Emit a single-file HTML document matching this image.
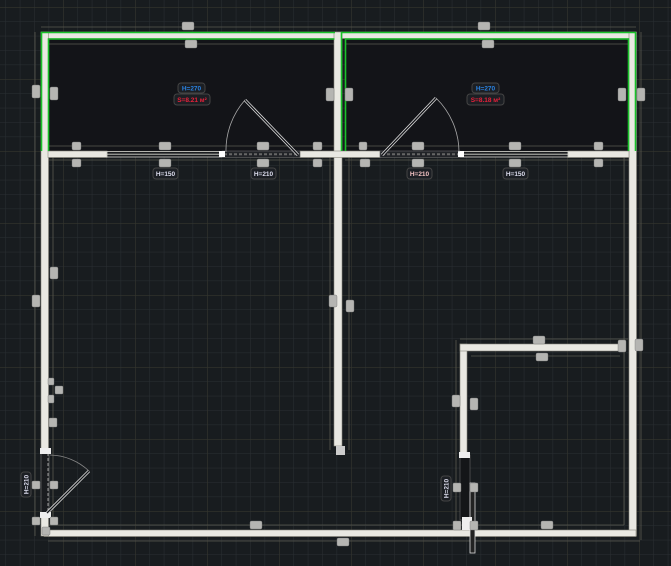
<!DOCTYPE html>
<html><head><meta charset="utf-8"><style>
html,body{margin:0;padding:0;background:#16191c;}
svg{display:block}
text{font-family:"Liberation Sans",sans-serif;}
</style></head><body>
<svg width="671" height="566" viewBox="0 0 671 566" xmlns="http://www.w3.org/2000/svg">
<defs>
<pattern id="mn" width="14.4" height="14.4" patternUnits="userSpaceOnUse" x="5.4" y="7">
<path d="M0 0H14.4M0 0V14.4" stroke="#2a2f33" stroke-width="1" fill="none"/>
</pattern>
<pattern id="mj" width="72" height="72" patternUnits="userSpaceOnUse" x="63" y="7">
<path d="M0 0H72M0 0V72" stroke="#34352e" stroke-width="1.2" fill="none"/>
</pattern>
</defs>
<rect width="671" height="566" fill="#181c1f"/>
<rect width="671" height="566" fill="url(#mn)"/>
<rect width="671" height="566" fill="url(#mj)"/>
<rect x="48" y="38" width="287" height="113" fill="#131418"/>
<rect x="345" y="38" width="284" height="113" fill="#131418"/>
<g stroke="#5a5a50" stroke-width="0.8" fill="none">
<line x1="41" y1="27" x2="636" y2="27"/>
<line x1="35" y1="32" x2="35" y2="536"/>
<line x1="48" y1="44" x2="334" y2="44"/>
<line x1="345" y1="44" x2="629" y2="44"/>
<line x1="48" y1="146" x2="334" y2="146"/>
<line x1="48" y1="160" x2="334" y2="160"/>
<line x1="345" y1="146" x2="629" y2="146"/>
<line x1="345" y1="160" x2="629" y2="160"/>
<line x1="53" y1="157" x2="53" y2="525"/>
<line x1="330" y1="157" x2="330" y2="450"/>
<line x1="349" y1="157" x2="349" y2="450"/>
<line x1="624" y1="157" x2="624" y2="525"/>
<line x1="641" y1="32" x2="641" y2="540"/>
<line x1="48" y1="541" x2="640" y2="541"/>
<line x1="48" y1="525" x2="624" y2="525"/>
<line x1="456" y1="340" x2="456" y2="530"/>
<line x1="471" y1="356" x2="620" y2="356"/>
<line x1="460" y1="339" x2="628" y2="339"/>
</g>
<g fill="#e9e8e2" stroke="#8a887e" stroke-width="0.6">
<rect x="41" y="32" width="595" height="6.5"/>
<rect x="41" y="32" width="7.5" height="418"/>
<rect x="629" y="32" width="7.5" height="504"/>
<rect x="334" y="32" width="8" height="414"/>
<rect x="44" y="530" width="592" height="6.5"/>
<rect x="41" y="515" width="7.5" height="21"/>
<rect x="48" y="151" width="59" height="6.5"/>
<rect x="300" y="151" width="80" height="6.5"/>
<rect x="568" y="151" width="61" height="6.5"/>
<rect x="460" y="344" width="7" height="111"/>
<rect x="460" y="344" width="162" height="7"/>
</g>
<g fill="none" stroke="#19c22a" stroke-width="1.6">
<path d="M41.5 151V32.5H335"/>
<path d="M48.5 151V39H334.5"/>
<path d="M341.5 151V32.5H636"/>
<path d="M345.5 151V39H628.5V151"/>
<path d="M635.5 32.5V151"/>
</g>
<g stroke="#d8d8d0" stroke-width="0.8" fill="none">
<rect x="107" y="151.5" width="115" height="5.5" fill="#1a1c1f"/>
<line x1="107" y1="154.2" x2="222" y2="154.2"/>
<rect x="460" y="151.5" width="108" height="5.5" fill="#1a1c1f"/>
<line x1="460" y1="154.2" x2="568" y2="154.2"/>
</g>
<rect x="222" y="151" width="78" height="6.5" fill="#222428" stroke="#777" stroke-width="0.5"/>
<line x1="224" y1="154.2" x2="298" y2="154.2" stroke="#666" stroke-width="2" stroke-dasharray="3 2"/>
<rect x="219" y="151" width="6" height="6" fill="#fff"/>
<path d="M298 155 L245 100" stroke="#ddd" stroke-width="3" fill="none"/>
<path d="M298 155 L245 100" stroke="#131418" stroke-width="1.4" fill="none"/>
<path d="M245 100 A76 76 0 0 0 226 152" stroke="#aaa" stroke-width="0.8" fill="none"/>
<rect x="380" y="151" width="80" height="6.5" fill="#222428" stroke="#777" stroke-width="0.5"/>
<line x1="382" y1="154.2" x2="458" y2="154.2" stroke="#666" stroke-width="2" stroke-dasharray="3 2"/>
<rect x="458" y="151" width="6" height="6" fill="#fff"/>
<path d="M382 155 L436 98" stroke="#ddd" stroke-width="3" fill="none"/>
<path d="M382 155 L436 98" stroke="#131418" stroke-width="1.4" fill="none"/>
<path d="M436 98 A76 76 0 0 1 459 152" stroke="#aaa" stroke-width="0.8" fill="none"/>
<rect x="41" y="450" width="8" height="65" fill="#1a1c1f" stroke="#888" stroke-width="0.5"/>
<line x1="48" y1="453" x2="48" y2="514" stroke="#999" stroke-width="1" stroke-dasharray="3 2"/>
<rect x="40" y="448" width="11" height="6" fill="#eee"/>
<rect x="40" y="512" width="11" height="6" fill="#eee"/>
<path d="M47 513 L89 471" stroke="#ddd" stroke-width="3" fill="none"/>
<path d="M47 513 L89 471" stroke="#16191c" stroke-width="1.3" fill="none"/>
<path d="M50 455 A58 58 0 0 1 89 471" stroke="#888" stroke-width="0.8" fill="none"/>
<rect x="336" y="446" width="9" height="9" fill="#ccc"/>
<rect x="460" y="455" width="10" height="65" fill="#141618" stroke="#777" stroke-width="0.5"/>
<rect x="470" y="483" width="5" height="70" fill="#222" stroke="#ddd" stroke-width="0.8"/>
<rect x="459" y="452" width="11" height="6" fill="#eee"/>
<rect x="462" y="517" width="10" height="13" fill="#eee"/>
<g fill="#b5b5b2" stroke="#777" stroke-width="0.4">
<rect x="182" y="22" width="12" height="8" rx="1.5"/>
<rect x="478" y="22" width="12" height="8" rx="1.5"/>
<rect x="185" y="40" width="12" height="8" rx="1.5"/>
<rect x="482" y="40" width="12" height="8" rx="1.5"/>
<rect x="32" y="85" width="8" height="13" rx="1.5"/>
<rect x="50" y="87" width="8" height="13" rx="1.5"/>
<rect x="326" y="88" width="8" height="13" rx="1.5"/>
<rect x="345" y="88" width="8" height="13" rx="1.5"/>
<rect x="618" y="88" width="8" height="13" rx="1.5"/>
<rect x="637" y="88" width="8" height="13" rx="1.5"/>
<rect x="72" y="142" width="9" height="8" rx="1.5"/>
<rect x="72" y="159" width="9" height="8" rx="1.5"/>
<rect x="159" y="142" width="12" height="8" rx="1.5"/>
<rect x="159" y="159" width="12" height="8" rx="1.5"/>
<rect x="257" y="142" width="12" height="8" rx="1.5"/>
<rect x="257" y="159" width="12" height="8" rx="1.5"/>
<rect x="313" y="142" width="9" height="8" rx="1.5"/>
<rect x="313" y="159" width="9" height="8" rx="1.5"/>
<rect x="359" y="142" width="8" height="8" rx="1.5"/>
<rect x="360" y="159" width="10" height="8" rx="1.5"/>
<rect x="412" y="142" width="12" height="8" rx="1.5"/>
<rect x="412" y="159" width="12" height="8" rx="1.5"/>
<rect x="509" y="142" width="12" height="8" rx="1.5"/>
<rect x="509" y="159" width="12" height="8" rx="1.5"/>
<rect x="594" y="142" width="9" height="8" rx="1.5"/>
<rect x="594" y="159" width="9" height="8" rx="1.5"/>
<rect x="50" y="267" width="8" height="12" rx="1.5"/>
<rect x="32" y="295" width="8" height="12" rx="1.5"/>
<rect x="329" y="295" width="8" height="12" rx="1.5"/>
<rect x="346" y="300" width="8" height="12" rx="1.5"/>
<rect x="48" y="378" width="6" height="7" rx="1"/>
<rect x="55" y="386" width="8" height="8" rx="1"/>
<rect x="48" y="395" width="6" height="8" rx="1"/>
<rect x="49" y="418" width="8" height="9" rx="1"/>
<rect x="32" y="481" width="8" height="8" rx="1"/>
<rect x="50" y="481" width="8" height="8" rx="1"/>
<rect x="32" y="517" width="8" height="8" rx="1"/>
<rect x="50" y="517" width="8" height="8" rx="1"/>
<rect x="42" y="527" width="8" height="8" rx="1"/>
<rect x="250" y="521" width="12" height="8" rx="1.5"/>
<rect x="541" y="521" width="12" height="8" rx="1.5"/>
<rect x="337" y="538" width="12" height="8" rx="1.5"/>
<rect x="533" y="336" width="12" height="8" rx="1.5"/>
<rect x="536" y="353" width="12" height="8" rx="1.5"/>
<rect x="452" y="395" width="8" height="12" rx="1.5"/>
<rect x="470" y="398" width="8" height="12" rx="1.5"/>
<rect x="618" y="340" width="8" height="12" rx="1.5"/>
<rect x="635" y="339" width="8" height="12" rx="1.5"/>
<rect x="453" y="483" width="8" height="9" rx="1"/>
<rect x="470" y="483" width="8" height="9" rx="1"/>
<rect x="453" y="521" width="8" height="9" rx="1"/>
<rect x="470" y="521" width="8" height="9" rx="1"/>
</g>
<g font-size="6.5" font-weight="bold" text-anchor="middle">
<rect x="178" y="83" width="27" height="10" rx="3" fill="#1c1f24" stroke="#444"/>
<text x="191.5" y="90.5" fill="#2a82e0">H=270</text>
<rect x="174" y="94" width="36" height="11" rx="3" fill="#1c1f24" stroke="#444"/>
<text x="192" y="102" fill="#e8203a">S=8.21 м²</text>
<rect x="472" y="83" width="27" height="10" rx="3" fill="#1c1f24" stroke="#444"/>
<text x="485.5" y="90.5" fill="#2a82e0">H=270</text>
<rect x="467" y="94" width="37" height="11" rx="3" fill="#1c1f24" stroke="#444"/>
<text x="485.5" y="102" fill="#e8203a">S=8.18 м²</text>
<rect x="153" y="168" width="25" height="11" rx="3" fill="#1c1f24" stroke="#444"/>
<text x="165.5" y="176" fill="#dde">H=150</text>
<rect x="251" y="168" width="25" height="11" rx="3" fill="#1c1f24" stroke="#444"/>
<text x="263.5" y="176" fill="#dde">H=210</text>
<rect x="407" y="168" width="25" height="11" rx="3" fill="#1c1f24" stroke="#444"/>
<text x="419.5" y="176" fill="#f0c0c0">H=210</text>
<rect x="503" y="168" width="25" height="11" rx="3" fill="#1c1f24" stroke="#444"/>
<text x="515.5" y="176" fill="#dde">H=150</text>
<rect x="21" y="472" width="10" height="25" rx="3" fill="#1c1f24" stroke="#444"/>
<text transform="translate(28.5 484.5) rotate(-90)" fill="#dde">H=210</text>
<rect x="441" y="476" width="10" height="25" rx="3" fill="#1c1f24" stroke="#444"/>
<text transform="translate(448.5 488.5) rotate(-90)" fill="#dde">H=210</text>
</g>
</svg>
</body></html>
